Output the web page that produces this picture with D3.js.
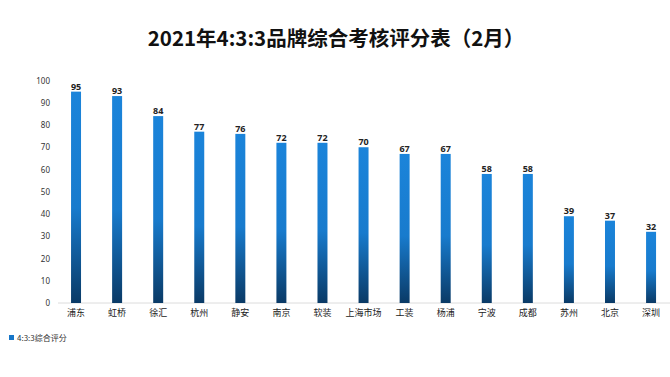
<!DOCTYPE html>
<html>
<head>
<meta charset="utf-8">
<script src="https://cdn.jsdelivr.net/npm/d3@7"></script>
<style>
  body { margin: 0; background: #fff; }
  svg { display: block; font-family: "Noto Sans CJK SC", "Noto Sans", sans-serif; }
</style>
</head>
<body>
<div class="chart"></div>
<script>
// data
const cities = ["浦东", "虹桥", "徐汇", "杭州", "静安", "南京", "软装", "上海市场", "工装", "杨浦", "宁波", "成都", "苏州", "北京", "深圳"];
const scores = [95, 93, 84, 77, 76, 72, 72, 70, 67, 67, 58, 58, 39, 37, 32];
const yTicks = [0, 10, 20, 30, 40, 50, 60, 70, 80, 90, 100];
const seriesName = "4:3:3综合评分";
const title = "2021年4:3:3品牌综合考核评分表（2月）";

const width = 670, height = 377;

const svg = d3.select(".chart").append("svg")
  .attr("width", width)
  .attr("height", height);

const defs = svg.append("defs");
const grad = defs.append("linearGradient")
  .attr("id", "barGrad")
  .attr("x1", 0).attr("y1", 0).attr("x2", 0).attr("y2", 1);
grad.append("stop").attr("offset", "0%").attr("stop-color", "#1b84da");
grad.append("stop").attr("offset", "55%").attr("stop-color", "#187bcd");
grad.append("stop").attr("offset", "100%").attr("stop-color", "#0a3a66");

// scales
const xScale = d3.scaleBand()
  .domain(cities)
  .range([55.5, 671.6])
  .paddingInner(0.757)
  .paddingOuter(0.3785);

const yScale = d3.scaleLinear().domain([0, 100]).range([303, 80.5]);

// title
svg.append("text")
  .attr("x", 336)
  .attr("y", 46)
  .attr("text-anchor", "middle")
  .attr("font-size", "20.5px")
  .attr("font-weight", "bold")
  .attr("fill", "#111")
  .text(title);

// y axis (labels only)
const yAxis = d3.axisLeft(yScale).tickValues(yTicks).tickSize(0).tickPadding(0);
const yG = svg.append("g")
  .attr("transform", "translate(50,0)")
  .call(yAxis);
yG.select(".domain").remove();
yG.selectAll("text")
  .attr("font-size", "8px")
  .attr("fill", "#333")
  .style("font-family", "'Noto Sans', sans-serif");

// baseline
svg.append("line")
  .attr("x1", 58).attr("x2", 670)
  .attr("y1", yScale(0)).attr("y2", yScale(0))
  .attr("stroke", "#dcdcdc")
  .attr("stroke-width", 1);

// bars
svg.selectAll("rect.bar")
  .data(scores)
  .join("rect")
  .attr("class", "bar")
  .attr("x", (d, i) => xScale(cities[i]))
  .attr("y", d => yScale(d))
  .attr("width", xScale.bandwidth())
  .attr("height", d => yScale(0) - yScale(d))
  .attr("fill", "url(#barGrad)");

// value labels
svg.selectAll("text.val")
  .data(scores)
  .join("text")
  .attr("class", "val")
  .attr("x", (d, i) => xScale(cities[i]) + xScale.bandwidth() / 2)
  .attr("y", d => yScale(d) - 2)
  .attr("text-anchor", "middle")
  .attr("font-size", "9px")
  .attr("font-weight", "bold")
  .attr("fill", "#222")
  .style("font-family", "'Noto Sans', sans-serif")
  .text(d => d);

// x axis labels
const xAxis = d3.axisBottom(xScale).tickSize(0).tickPadding(0);
const xG = svg.append("g")
  .attr("transform", "translate(0,310)")
  .call(xAxis);
xG.select(".domain").remove();
xG.selectAll("text")
  .attr("font-size", "9px")
  .attr("fill", "#222")
  .style("font-family", "'Noto Sans CJK SC', sans-serif");

// legend
svg.append("rect")
  .attr("x", 9).attr("y", 335)
  .attr("width", 5).attr("height", 5)
  .attr("fill", "#1776c8");
svg.append("text")
  .attr("x", 17).attr("y", 341)
  .attr("font-size", "8px")
  .attr("fill", "#333")
  .text(seriesName);
</script>
</body>
</html>
